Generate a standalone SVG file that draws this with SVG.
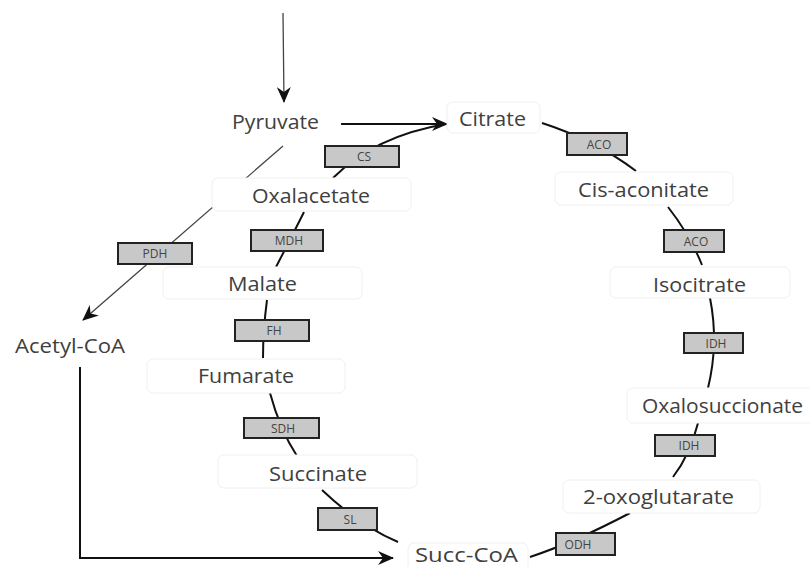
<svg xmlns="http://www.w3.org/2000/svg" width="810" height="567" viewBox="0 0 810 567">
<style>
.nb{fill:#fff;stroke:#f0f0f0;stroke-width:1}
.nt{font-family:"Open Sans","Noto Sans",sans-serif;font-size:20px;fill:#404040;text-anchor:middle}
.eb{fill:#c8c8c8;stroke:#222;stroke-width:2}
.et{font-family:"Open Sans","Noto Sans",sans-serif;font-size:12px;fill:#444;text-anchor:middle}
.thick{fill:none;stroke:#111;stroke-width:2}
.thin{fill:none;stroke:#444;stroke-width:1.3}
</style>
<defs>
<marker id="arr" markerUnits="userSpaceOnUse" viewBox="0 0 16 14" markerWidth="16" markerHeight="14" refX="15" refY="7" orient="auto">
<path d="M0,0 L16,7 L0,14 L5,7 z" fill="#111"/>
</marker>
</defs>
<rect width="810" height="567" fill="#fff"/>

<g id="connectors">
<path class="thin" d="M283,13 L284,102" marker-end="url(#arr)"/>
<path class="thick" d="M341,124 L447,124" marker-end="url(#arr)"/>
<path class="thin" d="M283,146 L83,320" marker-end="url(#arr)"/>
<path class="thick" d="M80,367 L80,558 L393,558" marker-end="url(#arr)"/>
<path class="thick" d="M333,178 Q375,136 446,124"/>
<path class="thick" d="M542,123 Q595,140 636,171"/>
<path class="thick" d="M668,207 Q690,235 702,265"/>
<path class="thick" d="M710,298 Q719,343 708,388"/>
<path class="thick" d="M698,423 Q690,455 673,477"/>
<path class="thick" d="M630,513 Q575,542 530,557"/>
<path class="thick" d="M322,490 Q360,526 398,542"/>
<path class="thick" d="M270,393 Q280,430 297,456"/>
<path class="thick" d="M267,300 Q263,330 263,358"/>
<path class="thick" d="M304,212 Q290,240 276,267"/>
</g>

<g id="pyruvate"><text class="nt" x="275.5" y="129" textLength="87" lengthAdjust="spacingAndGlyphs">Pyruvate</text></g>
<g id="citrate"><rect class="nb" x="447" y="102" width="93" height="31" rx="6"/><text class="nt" x="492.5" y="126" textLength="67" lengthAdjust="spacingAndGlyphs">Citrate</text></g>
<g id="cis-aconitate"><rect class="nb" x="555" y="172" width="178" height="33" rx="6"/><text class="nt" x="643.5" y="197" textLength="131" lengthAdjust="spacingAndGlyphs">Cis-aconitate</text></g>
<g id="isocitrate"><rect class="nb" x="610" y="267" width="180" height="31" rx="6"/><text class="nt" x="699.5" y="292" textLength="93" lengthAdjust="spacingAndGlyphs">Isocitrate</text></g>
<g id="oxalosuccionate"><rect class="nb" x="627" y="388" width="190" height="35" rx="6"/><text class="nt" x="722.5" y="413" textLength="161" lengthAdjust="spacingAndGlyphs">Oxalosuccionate</text></g>
<g id="oxoglutarate"><rect class="nb" x="563" y="480" width="197" height="33" rx="6"/><text class="nt" x="658.5" y="504" textLength="151" lengthAdjust="spacingAndGlyphs">2-oxoglutarate</text></g>
<g id="succ-coa"><rect class="nb" x="408" y="543" width="120" height="30" rx="6"/><text class="nt" x="466.5" y="562" textLength="103" lengthAdjust="spacingAndGlyphs">Succ-CoA</text></g>
<g id="succinate"><rect class="nb" x="218" y="455" width="199" height="33" rx="6"/><text class="nt" x="318" y="481" textLength="98" lengthAdjust="spacingAndGlyphs">Succinate</text></g>
<g id="fumarate"><rect class="nb" x="147" y="359" width="198" height="34" rx="6"/><text class="nt" x="246" y="383" textLength="96" lengthAdjust="spacingAndGlyphs">Fumarate</text></g>
<g id="malate"><rect class="nb" x="163" y="267" width="199" height="32" rx="6"/><text class="nt" x="262.5" y="291" textLength="69" lengthAdjust="spacingAndGlyphs">Malate</text></g>
<g id="oxalacetate"><rect class="nb" x="212" y="178" width="199" height="33" rx="6"/><text class="nt" x="311" y="203" textLength="118" lengthAdjust="spacingAndGlyphs">Oxalacetate</text></g>
<g id="acetyl-coa"><text class="nt" x="70" y="353" textLength="110" lengthAdjust="spacingAndGlyphs">Acetyl-CoA</text></g>

<g id="enz-cs"><rect class="eb" x="325" y="146" width="74" height="21"/><text class="et" x="364" y="161">CS</text></g>
<g id="enz-aco1"><rect class="eb" x="567" y="133" width="60" height="22"/><text class="et" x="599" y="148.5">ACO</text></g>
<g id="enz-aco2"><rect class="eb" x="664" y="230" width="60" height="22"/><text class="et" x="696" y="245.5">ACO</text></g>
<g id="enz-pdh"><rect class="eb" x="118" y="243" width="74" height="21"/><text class="et" x="155" y="258">PDH</text></g>
<g id="enz-mdh"><rect class="eb" x="251" y="230" width="72" height="21"/><text class="et" x="289" y="245">MDH</text></g>
<g id="enz-fh"><rect class="eb" x="235" y="320" width="74" height="21"/><text class="et" x="274" y="335">FH</text></g>
<g id="enz-sdh"><rect class="eb" x="244" y="418" width="75" height="20"/><text class="et" x="283" y="432.5">SDH</text></g>
<g id="enz-sl"><rect class="eb" x="318" y="508" width="59" height="22"/><text class="et" x="350" y="523.5">SL</text></g>
<g id="enz-idh1"><rect class="eb" x="684" y="333" width="59" height="20"/><text class="et" x="716" y="347.5">IDH</text></g>
<g id="enz-idh2"><rect class="eb" x="655" y="435" width="60" height="21"/><text class="et" x="689" y="450">IDH</text></g>
<g id="enz-odh"><rect class="eb" x="556" y="533" width="59" height="22"/><text class="et" x="578" y="548.5">ODH</text></g>
</svg>
